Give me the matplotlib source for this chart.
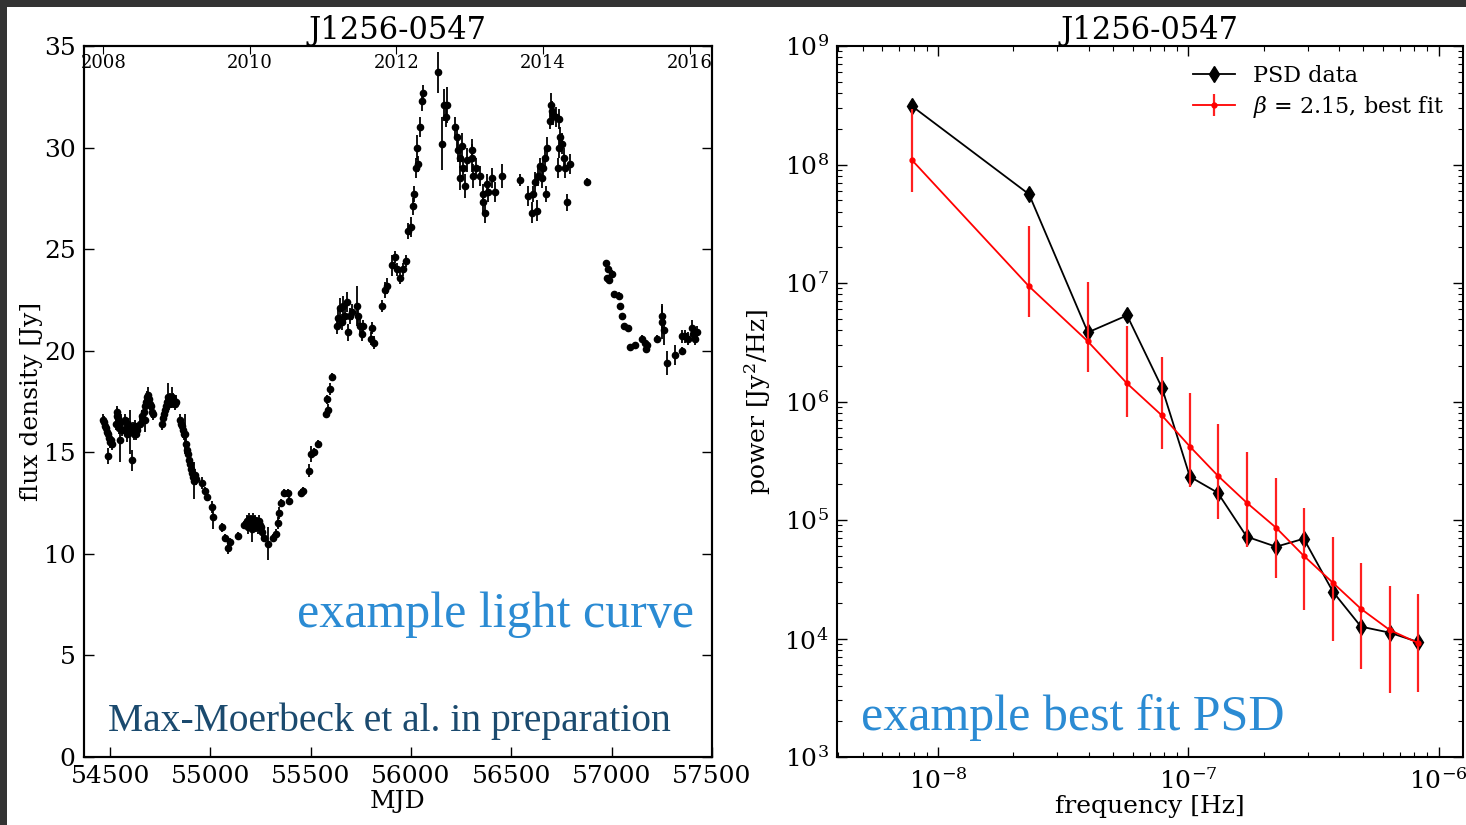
import matplotlib
matplotlib.use("Agg")
import matplotlib.pyplot as plt
from matplotlib.patches import Rectangle
from matplotlib.ticker import FixedLocator, LogLocator, NullFormatter

plt.rcParams['font.family'] = ['DejaVu Serif']
plt.rcParams['mathtext.fontset'] = 'dejavuserif'

# ---------------- light curve data ----------------
mjd = [
    54465, 54470, 54475, 54480, 54485, 54490, 54495, 54500, 54505, 54512, 54490,
    54528, 54532, 54536, 54540, 54545, 54548, 54555, 54560,
    54575, 54580, 54585, 54590, 54595, 54600, 54605, 54610, 54615, 54620, 54625, 54630, 54635,
    54650,
    54660, 54665, 54670, 54675, 54680, 54685, 54690, 54695, 54700, 54705, 54710, 54715, 54675,
    54760, 54765, 54770, 54775, 54780, 54785, 54790, 54795, 54800, 54805, 54810, 54815, 54820, 54825, 54830,
    54850, 54855, 54860, 54865, 54870, 54875, 54880, 54885, 54890, 54895, 54900, 54905, 54910, 54915, 54920, 54925, 54930,
    54960, 54975, 54985, 55010, 55015, 55060, 55075, 55090, 55100,
    55140, 55165, 55180, 55185, 55190, 55195, 55200, 55205, 55210, 55215, 55220, 55225, 55230, 55235, 55240, 55245, 55250, 55255,
    55265, 55285, 55310, 55325, 55335, 55340, 55350, 55365, 55385, 55390,
    55450, 55460, 55490, 55500, 55515, 55535,
    55575, 55582, 55587, 55597, 55605,
    55632, 55637, 55647, 55657, 55662, 55672, 55681, 55686, 55696, 55706, 55731, 55736, 55746, 55756, 55761,
    55800, 55806, 55815,
    55856, 55871, 55881, 55906, 55921, 55931, 55946, 55961, 55976, 55986, 56001, 56011, 56016, 56026, 56031, 56036, 56046, 56056, 56061,
    56135, 56155, 56165, 56175, 56180,
    56220, 56230, 56235, 56245, 56255, 56245, 56260, 56270, 56280, 56305, 56305, 56310, 56325, 56345, 56360, 56360, 56370, 56380, 56385, 56405, 56420, 56455,
    56545, 56585, 56605, 56610, 56620, 56630, 56635, 56645, 56655, 56660, 56675, 56670, 56680, 56695, 56700, 56705, 56710, 56720, 56735, 56735, 56740, 56750, 56760, 56730, 56765, 56775, 56790,
    56875,
    56972, 56982, 56977, 56987, 57002, 57012, 57037, 57042, 57052, 57062, 57082, 57092, 57117, 57152, 57167, 57172, 57177, 57227, 57252, 57252, 57262, 57277, 57317, 57352, 57352, 57367, 57382, 57402, 57407, 57427, 57417,
]
flux = [
    16.6, 16.5, 16.3, 16.2, 16.0, 15.9, 15.7, 15.5, 15.6, 15.4, 14.8,
    16.4, 16.8, 17.0, 16.7, 16.2, 15.6, 16.5, 16.1,
    16.6, 16.2, 15.9, 16.4, 16.0, 16.0, 16.1, 14.6, 16.2, 15.9, 16.3, 15.9, 16.1,
    16.4,
    16.8, 16.6, 17.0, 17.3, 17.5, 17.7, 17.8, 17.6, 17.4, 17.3, 17.0, 16.9, 16.6,
    16.4, 16.7, 16.9, 17.1, 17.3, 17.5, 17.7, 17.4, 17.6, 17.5, 17.7, 17.6, 17.5, 17.4, 17.5,
    16.6, 16.4, 16.3, 16.1, 15.9, 15.9, 15.4, 15.1, 14.9, 14.6, 14.4, 14.2, 14.0, 13.8, 13.6, 13.9, 13.7,
    13.5, 13.1, 12.8, 12.3, 11.8, 11.3, 10.8, 10.3, 10.6,
    10.9, 11.4, 11.6, 11.3, 11.7, 11.5, 11.6, 11.2, 11.7, 11.5, 11.6, 11.4, 11.5, 11.3, 11.6, 11.4, 11.3, 11.1,
    10.8, 10.5, 10.8, 11.0, 11.5, 12.0, 12.5, 13.0, 13.0, 12.6,
    13.0, 13.1, 14.1, 14.9, 15.0, 15.4,
    16.9, 17.6, 17.1, 18.1, 18.7,
    21.2, 21.6, 22.1, 21.4, 22.2, 21.7, 22.4, 20.9, 21.7, 21.9, 22.2, 21.7, 21.2, 20.8, 21.2,
    20.6, 21.1, 20.4,
    22.2, 23.0, 23.2, 24.2, 24.6, 24.0, 23.6, 24.0, 24.4, 25.9, 26.1, 27.1, 27.7, 29.0, 30.0, 29.2, 31.0, 32.3, 32.7,
    33.7, 30.2, 32.1, 31.5, 32.1,
    31.0, 30.5, 29.9, 29.5, 30.1, 28.5, 29.0, 28.1, 29.4, 29.5, 29.9, 28.6, 29.0, 28.6, 27.7, 27.3, 26.8, 28.2, 27.8, 28.5, 27.8, 28.6,
    28.4, 27.6, 26.8, 27.7, 28.3, 26.9, 28.6, 29.1, 28.5, 29.0, 27.7, 29.5, 30.0, 31.3, 32.1, 31.8, 31.6, 31.5, 31.4, 30.0, 30.5, 30.2, 29.5, 29.0, 29.0, 27.3, 29.2,
    28.3,
    24.3, 24.0, 23.6, 23.5, 23.8, 22.8, 22.7, 22.2, 21.7, 21.2, 21.1, 20.2, 20.3, 20.6, 20.4, 20.1, 20.3, 20.6, 21.4, 21.7, 21.0, 19.4, 19.8, 20.0, 20.7, 20.7, 20.6, 21.1, 20.8, 20.9, 20.6,
]
flux_err = [
    0.3, 0.3, 0.3, 0.3, 0.3, 0.3, 0.3, 0.3, 0.3, 0.3, 0.4,
    0.3, 0.4, 0.3, 0.3, 0.3, 1.1, 0.4, 0.3,
    0.3, 0.3, 0.4, 0.3, 0.3, 1.1, 0.3, 0.5, 0.3, 0.3, 0.3, 0.3, 0.3,
    0.3,
    0.3, 0.3, 0.4, 0.3, 0.3, 0.3, 0.4, 0.3, 0.3, 0.3, 0.3, 0.3, 0.6,
    0.3, 0.3, 0.3, 0.3, 0.3, 0.3, 0.7, 0.3, 0.3, 0.3, 0.5, 0.3, 0.3, 0.3, 0.3,
    0.3, 0.3, 0.3, 0.4, 0.3, 1.0, 0.3, 0.3, 0.4, 0.3, 0.3, 0.4, 0.3, 0.3, 0.9, 0.3, 0.3,
    0.3, 0.2, 0.2, 0.3, 0.6, 0.2, 0.2, 0.3, 0.2,
    0.2, 0.2, 0.3, 0.3, 0.3, 0.3, 0.3, 0.6, 0.3, 0.3, 0.3, 0.3, 0.3, 0.3, 0.3, 0.3, 0.3, 0.3,
    0.2, 0.8, 0.2, 0.2, 0.3, 0.3, 0.2, 0.2, 0.2, 0.2,
    0.2, 0.2, 0.3, 0.4, 0.2, 0.2,
    0.2, 0.2, 0.3, 0.3, 0.2,
    0.4, 0.4, 0.5, 0.4, 0.5, 0.4, 0.5, 0.4, 0.4, 0.4, 1.0, 0.4, 0.5, 0.3, 0.3,
    0.3, 0.3, 0.3,
    0.3, 0.4, 0.4, 0.5, 0.3, 0.3, 0.3, 0.3, 0.3, 0.4, 0.5, 0.4, 0.4, 0.5, 0.6, 0.4, 0.5, 0.5, 0.4,
    1.0, 1.3, 0.8, 0.5, 0.9,
    0.5, 0.5, 0.6, 0.5, 0.6, 0.6, 0.5, 0.6, 0.6, 0.7, 0.5, 0.6, 0.5, 0.5, 0.5, 0.5, 0.5, 0.5, 0.5, 0.5, 0.5, 0.6,
    0.3, 0.5, 0.5, 0.4, 0.5, 0.5, 0.5, 0.4, 0.5, 0.4, 0.4, 0.5, 0.5, 0.4, 0.6, 0.5, 0.5, 0.5, 0.5, 0.5, 0.5, 0.5, 0.5, 0.5, 0.5, 0.4, 0.5,
    0.2,
    0.15, 0.15, 0.15, 0.15, 0.15, 0.15, 0.2, 0.15, 0.15, 0.15, 0.15, 0.15, 0.15, 0.15, 0.15, 0.2, 0.15, 0.15, 0.8, 0.6, 0.7, 0.6, 0.5, 0.2, 0.3, 0.3, 0.3, 0.4, 0.3, 0.3, 0.3,
]

year_labels = ['2008', '2010', '2012', '2014', '2016']
year_mjd = [54466, 55197, 55927, 56658, 57388]
lc_yticks = [0, 5, 10, 15, 20, 25, 30, 35]
lc_xticks = [54500, 55000, 55500, 56000, 56500, 57000, 57500]

# ---------------- PSD data ----------------
freq = [7.87e-9, 2.31e-8, 3.97e-8, 5.69e-8, 7.84e-8, 1.014e-7, 1.31e-7,
        1.71e-7, 2.24e-7, 2.89e-7, 3.78e-7, 4.89e-7, 6.37e-7, 8.24e-7]
psd_data = [3.11e8, 5.61e7, 3.83e6, 5.33e6, 1.31e6, 2.32e5, 1.70e5,
            7.23e4, 5.95e4, 6.95e4, 2.48e4, 1.26e4, 1.12e4, 9.37e3]
psd_fit = [1.09e8, 9.37e6, 3.21e6, 1.42e6, 7.62e5, 4.17e5, 2.37e5,
           1.40e5, 8.61e4, 4.99e4, 2.95e4, 1.78e4, 1.18e4, 9.19e3]
fit_upper = [2.94e8, 3.01e7, 1.01e7, 4.31e6, 2.36e6, 1.19e6, 6.52e5,
             3.78e5, 2.28e5, 1.27e5, 7.23e4, 4.36e4, 2.79e4, 2.38e4]
fit_lower = [5.83e7, 5.13e6, 1.76e6, 7.46e5, 4.01e5, 1.91e5, 1.01e5,
             5.96e4, 3.26e4, 1.75e4, 9.55e3, 5.55e3, 3.48e3, 3.54e3]

W, H = 1466, 825
fig = plt.figure(figsize=(W / 100, H / 100), dpi=100)
fig.patch.set_facecolor('#333333')
fig.patches.append(Rectangle((7 / W, 0), 1, 1 - 7 / H, transform=fig.transFigure,
                             facecolor='white', edgecolor='none', zorder=-10))

def style_axes(ax):
    for s in ax.spines.values():
        s.set_linewidth(1.5)
    ax.tick_params(which='major', direction='in', length=7, width=1.0, labelsize=18)
    ax.tick_params(which='minor', direction='in', length=3.5, width=0.8)

# ---------------- left panel ----------------
ax1 = fig.add_axes([84 / W, (H - 757) / H, (712 - 84) / W, (757 - 46) / H])
ax1.errorbar(mjd, flux, yerr=flux_err, fmt='o', color='black', ecolor='black',
             markersize=4.5, elinewidth=1.3, capsize=0)
ax1.set_xlim(54370, 57500)
ax1.set_ylim(0, 35)
ax1.set_xticks(lc_xticks)
ax1.set_yticks(lc_yticks)
style_axes(ax1)
ax1.tick_params(axis='y', right=True, pad=6)
ax1.tick_params(axis='x', top=False, pad=6)
ax1.set_xlabel('MJD', fontsize=18, labelpad=1)
ax1.set_ylabel('flux density [Jy]', fontsize=18, labelpad=1)
ax1.set_title('J1256-0547', fontsize=22, pad=2)

ax1t = ax1.twiny()
ax1t.set_xlim(ax1.get_xlim())
ax1t.xaxis.set_major_locator(FixedLocator(year_mjd))
ax1t.set_xticklabels(year_labels)
ax1t.tick_params(axis='x', direction='in', length=6, labelsize=13, pad=-19)
for s in ax1t.spines.values():
    s.set_linewidth(1.5)

fig.text(297 / W, (H - 627) / H, 'example light curve', color='#2b8bd3',
         fontsize=36, family='Liberation Serif', va='baseline', ha='left')
fig.text(108 / W, (H - 731) / H, 'Max-Moerbeck et al. in preparation', color='#1b4a6e',
         fontsize=28.5, family='Liberation Serif', va='baseline', ha='left')

# ---------------- right panel ----------------
ax2 = fig.add_axes([837 / W, (H - 757) / H, (1463 - 837) / W, (757 - 46) / H])
ax2.set_xscale('log')
ax2.set_yscale('log')
ax2.plot(freq, psd_data, color='black', marker='d', markersize=8, linewidth=1.3,
         label='PSD data')
yerr_lo = [v - lo for v, lo in zip(psd_fit, fit_lower)]
yerr_hi = [hi - v for v, hi in zip(psd_fit, fit_upper)]
ax2.errorbar(freq, psd_fit, yerr=[yerr_lo, yerr_hi], color='red', ecolor='#ff2020',
             marker='.', markersize=7, linewidth=1.3, elinewidth=1.6, capsize=0,
             label=r'$\beta$ = 2.15, best fit')
ax2.set_xlim(3.95e-9, 1.25e-6)
ax2.set_ylim(1e3, 1e9)
style_axes(ax2)
ax2.tick_params(which='both', top=True, right=True)
ax2.tick_params(axis='y', pad=6)
ax2.tick_params(axis='x', pad=8)
ax2.yaxis.set_major_locator(LogLocator(base=10, numticks=10))
ax2.yaxis.set_minor_locator(LogLocator(base=10, subs=range(2, 10), numticks=20))
ax2.yaxis.set_minor_formatter(NullFormatter())
ax2.xaxis.set_minor_formatter(NullFormatter())
ax2.set_xlabel('frequency [Hz]', fontsize=18, labelpad=1)
ax2.set_ylabel(r'power [Jy$^2$/Hz]', fontsize=18, labelpad=8)
ax2.set_title('J1256-0547', fontsize=22, pad=2)
ax2.legend(loc='upper right', frameon=False, fontsize=16, numpoints=1,
           handlelength=1.9, borderaxespad=0.45, labelspacing=0.3)

fig.text(861 / W, (H - 730) / H, 'example best fit PSD', color='#2b8bd3',
         fontsize=36, family='Liberation Serif', va='baseline', ha='left')

fig.savefig('out.png', dpi=100, facecolor=fig.get_facecolor())
